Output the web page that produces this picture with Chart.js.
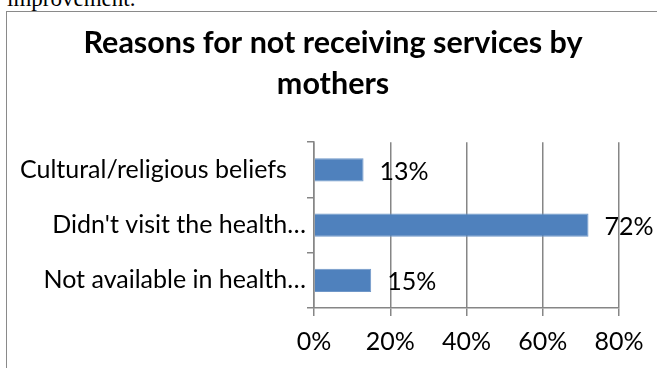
<!DOCTYPE html>
<html>
<head>
<meta charset="utf-8">
<script src="https://cdn.jsdelivr.net/npm/chart.js@4/dist/chart.umd.min.js"></script>
<style>
	html, body { margin: 0; padding: 0; background: #fff; width: 657px; height: 368px; overflow: hidden; }
	#doc-text { position: absolute; left: 7px; top: -13px; font-family: "Liberation Serif", serif; font-size: 23px; line-height: 23px; color: #000; }
	#frame { position: absolute; left: 6px; top: 11px; width: 700px; height: 400px; border: 1.5px solid #8a8a8a; box-sizing: border-box; }
	#reasons-chart { position: absolute; left: 0; top: 0; }
</style>
</head>
<body>
<div id="doc-text">improvement.</div>
<div id="frame"></div>
<canvas id="reasons-chart" width="657" height="368"></canvas>
<script>
// data
const reasonLabels = ['Cultural/religious beliefs\u00a0\u00a0\u00a0', "Didn't visit the health\u2026", 'Not available in health\u2026'];
const reasonValues = [13, 72, 15]; // percent of mothers
const xTickValues = [0, 20, 40, 60, 80];
const chartTitle = ['Reasons for not receiving services by', 'mothers'];

const gridGray = '#868686';
const labelFont = { family: 'Lato', size: 25 };

// draws "13%" etc. just right of each bar
const barValueLabels = {
	id: 'barValueLabels',
	afterDatasetsDraw(chart) {
		const ctx = chart.ctx;
		const meta = chart.getDatasetMeta(0);
		ctx.save();
		ctx.font = `${labelFont.size}px ${labelFont.family}`;
		ctx.fillStyle = '#000';
		ctx.textAlign = 'left';
		ctx.textBaseline = 'middle';
		meta.data.forEach((bar, i) => {
			ctx.fillText(reasonValues[i] + '%', bar.x + 16, bar.y + 2);
		});
		ctx.restore();
	}
};

const ctx = document.getElementById('reasons-chart').getContext('2d');
new Chart(ctx, {
	type: 'bar',
	data: {
		labels: reasonLabels,
		datasets: [{
			data: reasonValues,
			backgroundColor: '#4F81BD',
			borderColor: '#6f97c8',
			borderWidth: 1,
			barPercentage: 0.42,
			categoryPercentage: 1
		}]
	},
	options: {
		indexAxis: 'y',
		responsive: false,
		animation: false,
		layout: {
			// small right padding keeps the title centred like the original
			padding: { left: 19, right: 10, top: 23, bottom: 0 }
		},
		plugins: {
			legend: { display: false },
			tooltip: { enabled: false },
			title: {
				display: true,
				text: chartTitle,
				color: '#000',
				font: { family: 'Lato', size: 30.5, weight: 'bold', lineHeight: 1.33 },
				padding: { top: 0, bottom: 38 }
			}
		},
		scales: {
			x: {
				min: 0,
				max: 80,
				afterBuildTicks(axis) {
					axis.ticks = xTickValues.map(v => ({ value: v }));
				},
				// room on the right for the 72% label
				afterFit(axis) {
					axis.paddingRight = 38;
				},
				border: { color: gridGray, width: 1.5 },
				grid: { color: gridGray, lineWidth: 1.5, tickLength: 8 },
				ticks: {
					color: '#000',
					font: labelFont,
					padding: 11,
					callback: v => v + '%'
				}
			},
			y: {
				afterFit(axis) {
					axis.width = 295;
				},
				border: { color: gridGray, width: 1.5 },
				grid: { color: gridGray, lineWidth: 1.5, drawOnChartArea: false, tickLength: 7, offset: true },
				ticks: {
					color: '#000',
					font: labelFont,
					padding: 1
				}
			}
		}
	},
	plugins: [barValueLabels]
});
</script>
</body>
</html>
